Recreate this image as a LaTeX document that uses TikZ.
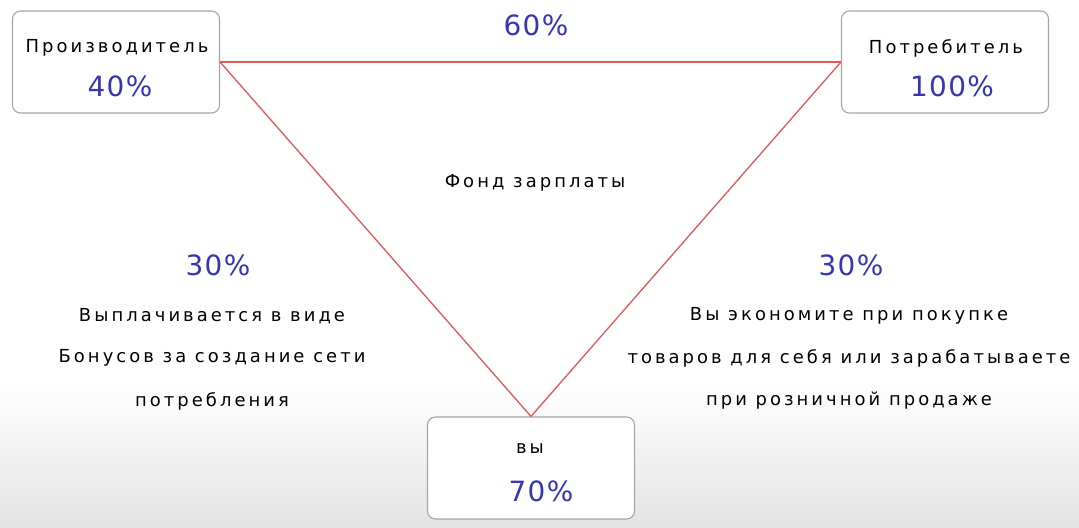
\documentclass[tikz,border=0pt]{standalone}
\usepackage{fontspec}
\newfontfamily\labfont[LetterSpace=17]{DejaVu Sans}
\newfontfamily\numfont[LetterSpace=5]{DejaVu Sans}
\definecolor{numblue}{HTML}{3636B2}
\definecolor{tri}{HTML}{E05858}
\definecolor{boxline}{HTML}{A6A6A6}
\begin{document}
\begin{tikzpicture}[x=1bp,y=-1bp,
  card/.style={draw=boxline,line width=1.1bp,fill=white,rounded corners=8bp,minimum width=207bp,minimum height=102bp,inner sep=0pt},
  lab/.style={font=\labfont\fontsize{18}{21}\selectfont,text=black,inner sep=0pt,anchor=center},
  num/.style={font=\numfont\fontsize{28}{32}\selectfont,text=numblue,inner sep=0pt,anchor=center},
  edge/.style={draw=tri,line width=1.3bp}]
\useasboundingbox (0,0) rectangle (1079,528);
\fill[white] (0,0) rectangle (1079,528);
\shade[top color=white,bottom color=black!11] (0,385) rectangle (1079,528);
% boxes
\node[card] (prod) at (116,62) {};
\node[card] (cons) at (945,62) {};
\node[card] (you) at (531,468) {};
% triangle
\draw[edge] (prod.east) -- (cons.west);
\draw[edge] (prod.east) -- (you.north);
\draw[edge] (cons.west) -- (you.north);
% box texts
\node[lab] (prodt) at (117,48) {Производитель};
\node[num] (prodn) at (120,86) {40\%};
\node[lab] (const) at (946,48) {Потребитель};
\node[num] (consn) at (952,86) {100\%};
\node[lab] (yout) at (530,448) {вы};
\node[num] (youn) at (541,491) {70\%};
% other texts
\node[num] (top) at (536,25) {60\%};
\node[lab] (fund) at (535,183) {Фонд зарплаты};
\node[num] (lnum) at (218,265) {30\%};
\node[num] (rnum) at (851,265) {30\%};
\node[lab] (l1) at (212,316) {Выплачивается в виде};
\node[lab] (l2) at (212,358) {Бонусов за создание сети};
\node[lab] (l3) at (212,401) {потребления};
\node[lab] (r1) at (849,316) {Вы экономите при покупке};
\node[lab] (r2) at (849,358) {товаров для себя или зарабатываете};
\node[lab] (r3) at (849,401) {при розничной продаже};
\end{tikzpicture}
\end{document}
